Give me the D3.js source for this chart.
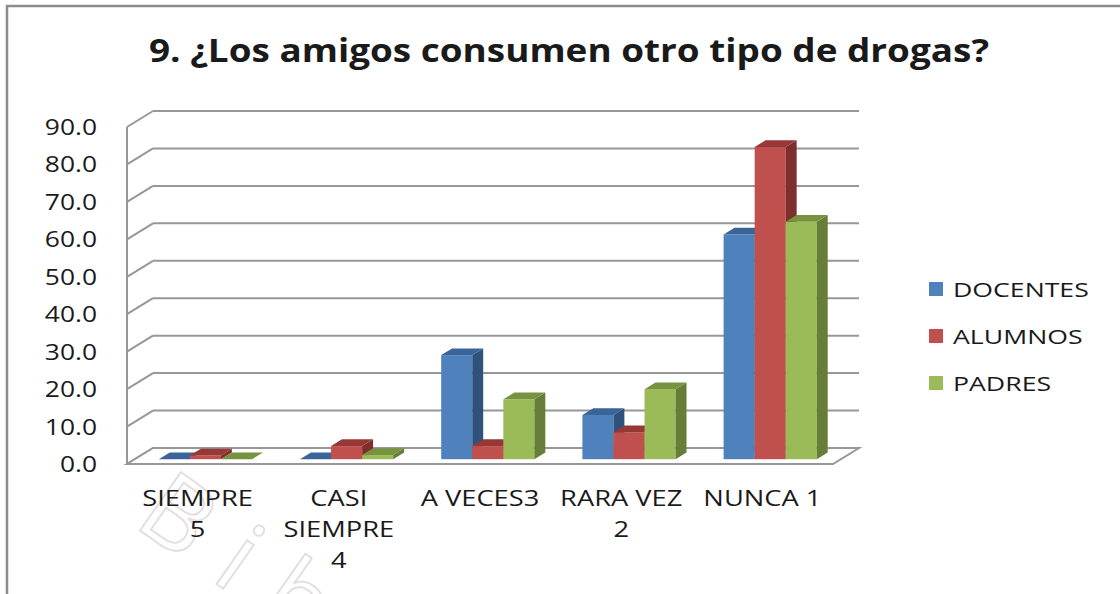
<!DOCTYPE html>
<html>
<head>
<meta charset="utf-8">
<script src="https://cdn.jsdelivr.net/npm/d3@7"></script>
<style>
  body { margin: 0; background: #fff; }
  svg { display: block; }
  text { font-family: "Open Sans", "DejaVu Sans", sans-serif; fill: #1a1a1a; }
</style>
</head>
<body>
<script>
// Chart data
const categories = ["SIEMPRE 5", "CASI SIEMPRE 4", "A VECES3", "RARA VEZ 2", "NUNCA 1"];
const catLabels = [["SIEMPRE", "5"], ["CASI", "SIEMPRE", "4"], ["A VECES3"], ["RARA VEZ", "2"], ["NUNCA 1"]];
const series = ["DOCENTES", "ALUMNOS", "PADRES"];
const docentes = [0.0, 0.0, 27.8, 11.8, 60.0];
const alumnos = [1.0, 3.5, 3.5, 7.2, 83.4];
const padres = [0.0, 1.1, 16.0, 18.7, 63.4];
const yTicks = [0, 10, 20, 30, 40, 50, 60, 70, 80, 90];
const title = "9. ¿Los amigos consumen otro tipo de drogas?";

const values = [docentes, alumnos, padres];

// colours: front, side, top
const colors = {
    DOCENTES: ["#4F81BD", "#2F527C", "#3B6598"],
    ALUMNOS: ["#C0504D", "#7E2E2C", "#963936"],
    PADRES: ["#9BBB59", "#667E37", "#779340"]
};

const W = 1120, H = 594;
const svg = d3.select("body").append("svg")
    .attr("width", W)
    .attr("height", H);

svg.append("rect").attr("width", W).attr("height", H).attr("fill", "#fff");

// outer chart border (runs off the picture on the right and bottom)
svg.append("rect")
    .attr("x", 7).attr("y", 6)
    .attr("width", 1300).attr("height", 800)
    .attr("fill", "none")
    .attr("stroke", "#8c8c8c")
    .attr("stroke-width", 2.5);

// faint watermark behind the labels
svg.append("text")
    .attr("transform", "translate(132,525) rotate(35)")
    .attr("font-size", 100)
    .attr("letter-spacing", 30)
    .style("fill", "#fff")
    .style("stroke", "#e2dede")
    .style("stroke-width", 1.8)
    .text("Bib");

// scales
const x = d3.scaleBand()
    .domain(categories)
    .range([127, 833])
    .paddingInner(0.34)
    .paddingOuter(0.17);

const xs = d3.scaleBand()
    .domain(series)
    .range([0, x.bandwidth()]);

const y = d3.scaleLinear()
    .domain([0, 90])
    .range([464, 127]);

// 3D depth of the plot box and of the bars
const depth = { dx: 26, dy: -16 };
const barFront = 0.3, barDepth = 0.42;

const grid = svg.append("g")
    .attr("stroke", "#979797")
    .attr("stroke-width", 2)
    .attr("fill", "none");

// back wall gridlines
grid.selectAll(".back")
    .data(yTicks)
    .enter().append("line")
    .attr("x1", 127 + depth.dx)
    .attr("x2", 833 + depth.dx)
    .attr("y1", d => y(d) + depth.dy)
    .attr("y2", d => y(d) + depth.dy);

// side wall ticks
grid.selectAll(".side")
    .data(yTicks)
    .enter().append("line")
    .attr("x1", 127)
    .attr("x2", 127 + depth.dx)
    .attr("y1", d => y(d))
    .attr("y2", d => y(d) + depth.dy);

// vertical axis line
grid.append("line")
    .attr("x1", 127).attr("x2", 127)
    .attr("y1", y(0)).attr("y2", y(90));

// floor
grid.append("path")
    .attr("d", `M127,${y(0)} L833,${y(0)} L${833 + depth.dx},${y(0) + depth.dy} L${127 + depth.dx},${y(0) + depth.dy} Z`)
    .attr("fill", "#fff");

// bars
const fdx = depth.dx * barFront, fdy = depth.dy * barFront;
const bdx = depth.dx * barDepth, bdy = depth.dy * barDepth;
const bars = svg.append("g");

categories.forEach(function (c, i) {
    series.forEach(function (s, j) {
        const v = values[j][i];
        const x0 = x(c) + xs(s) + fdx;
        const w = xs.bandwidth();
        const yb = y(0) + fdy;
        const yt = y(v) + fdy;
        const col = colors[s];
        const g = bars.append("g");
        g.append("rect")
            .attr("x", x0).attr("y", yt)
            .attr("width", w).attr("height", yb - yt)
            .attr("fill", col[0]);
        g.append("path")
            .attr("d", `M${x0 + w},${yb} L${x0 + w + bdx},${yb + bdy} L${x0 + w + bdx},${yt + bdy} L${x0 + w},${yt} Z`)
            .attr("fill", col[1]);
        g.append("path")
            .attr("d", `M${x0},${yt} L${x0 + bdx},${yt + bdy} L${x0 + w + bdx},${yt + bdy} L${x0 + w},${yt} Z`)
            .attr("fill", col[2]);
    });
});

// y tick labels
svg.append("g").selectAll("text")
    .data(yTicks)
    .enter().append("text")
    .attr("transform", d => `translate(97,${y(d) + 8}) scale(1.2,1)`)
    .attr("text-anchor", "end")
    .attr("font-size", 22)
    .text(d => d.toFixed(1));

// category labels
const catG = svg.append("g").selectAll("text")
    .data(categories)
    .enter().append("text")
    .attr("transform", d => `translate(${x(d) + x.bandwidth() / 2},506) scale(1.3,1)`)
    .attr("text-anchor", "middle")
    .attr("font-size", 21)
    .text(null);

catG.selectAll("tspan")
    .data((d, i) => catLabels[i])
    .enter().append("tspan")
    .attr("x", 0)
    .attr("dy", (d, i) => i === 0 ? 0 : 31)
    .text(d => d);

// legend
const legend = svg.append("g").selectAll("g")
    .data(series)
    .enter().append("g")
    .attr("transform", (d, i) => `translate(929,${289 + i * 47})`);

legend.append("rect")
    .attr("x", 0).attr("y", -7)
    .attr("width", 14).attr("height", 14)
    .attr("fill", d => colors[d][0]);

legend.append("text")
    .attr("transform", "translate(24,8) scale(1.3,1)")
    .attr("font-size", 20.5)
    .text(d => d);

// title
svg.append("text")
    .attr("transform", "translate(569,62)")
    .attr("text-anchor", "middle")
    .attr("font-size", 32)
    .attr("font-weight", "bold")
    .attr("textLength", 840)
    .attr("lengthAdjust", "spacingAndGlyphs")
    .text(title);
</script>
</body>
</html>
